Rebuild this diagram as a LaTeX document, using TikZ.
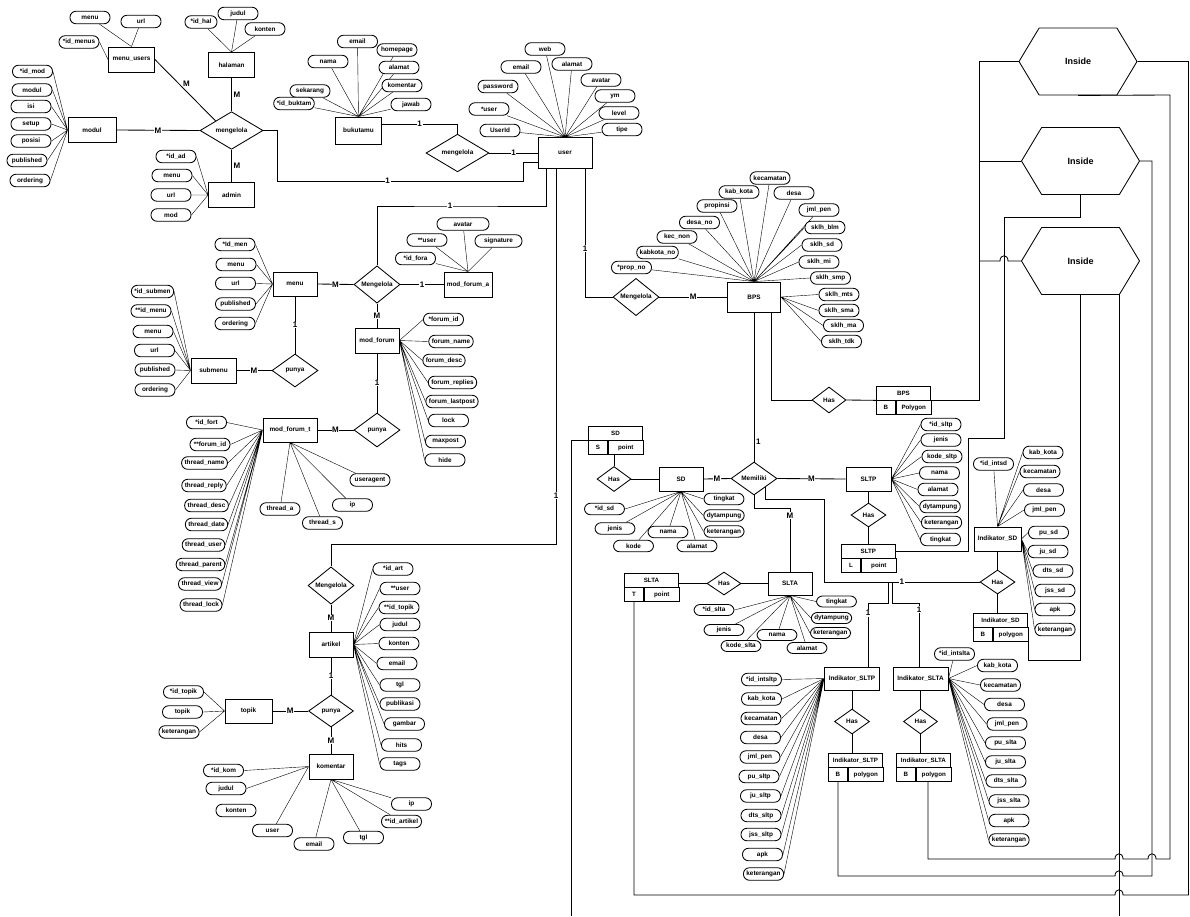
\documentclass[tikz,border=0pt]{standalone}
\usepackage{fontspec}
\setmainfont{Liberation Sans}
\usetikzlibrary{shapes.geometric,shapes.symbols,backgrounds}
% spatial table: title row, then code cell and geometry cell
\newcommand{\geobox}[5]{%
  \node[gtitle,anchor=north west] (#1) at (#2) {#3};
  \node[gcell,anchor=north west,minimum width=19pt] (#1b) at (#1.south west) {#4};
  \node[gcell,anchor=north west,minimum width=35pt] (#1t) at (#1b.north east) {#5};}

\begin{document}
\begin{tikzpicture}[x=1pt,y=-1pt,line width=0.85pt,
  ent/.style={draw,fill=white,minimum width=46pt,minimum height=25pt,inner sep=1pt,font=\fontsize{6.4}{7}\selectfont\bfseries},
  rel/.style={draw,diamond,fill=white,minimum width=46pt,minimum height=33pt,inner sep=0pt,font=\fontsize{6.4}{7}\selectfont\bfseries},
  hasr/.style={rel,minimum width=34pt,minimum height=25pt},
  att/.style={draw,fill=white,rounded corners=6pt,minimum width=40pt,minimum height=12.5pt,inner xsep=3pt,inner ysep=0pt,font=\fontsize{6.4}{7}\selectfont\bfseries},
  card/.style={fill=white,inner sep=0.6pt,font=\fontsize{8}{9}\selectfont\bfseries},
  gtitle/.style={draw,fill=white,minimum width=54pt,minimum height=13.5pt,inner sep=0pt,font=\fontsize{6.2}{7}\selectfont\bfseries},
  gcell/.style={draw,fill=white,minimum height=14pt,inner sep=0pt,font=\fontsize{6.2}{7}\selectfont\bfseries},
  hex/.style={draw,signal,signal to=east and west,signal pointer angle=118,minimum width=118pt,minimum height=67pt,inner sep=0pt,font=\fontsize{9}{10}\selectfont\bfseries}]
  \useasboundingbox (0,0) rectangle (1190,916);
  % top left: menu_users, halaman, modul, admin round mengelola
  \node[rel,minimum width=63pt] (mgl) at (231.5,130.5) {mengelola};
  \node[ent] (menuusers) at (131.5,59.5) {menu\_users};
  \node[att] (mu1) at (90,17.5) {menu};
  \node[att] (mu2) at (141,21.5) {url};
  \node[att] (mu3) at (79,42) {*id\_menus};
  \node[ent] (halaman) at (231.5,65) {halaman};
  \node[att,minimum width=32pt] (hl1) at (201,22) {*id\_hal};
  \node[att] (hl2) at (238,13.5) {judul};
  \node[att] (hl3) at (265,29) {konten};
  \node[ent,minimum width=48pt] (modul) at (92,130) {modul};
  \node[att] (md1) at (32.5,71.5) {*id\_mod};
  \node[att] (md2) at (32,90) {modul};
  \node[att] (md3) at (31,106.5) {isi};
  \node[att] (md4) at (31,124) {setup};
  \node[att] (md5) at (31,141) {posisi};
  \node[att] (md6) at (27,160.5) {published};
  \node[att] (md7) at (30,180.5) {ordering};
  \node[ent] (admin) at (231.5,195) {admin};
  \node[att] (ad1) at (176,156.5) {*id\_ad};
  \node[att] (ad2) at (172,175.5) {menu};
  \node[att] (ad3) at (171,195) {url};
  \node[att] (ad4) at (171,215) {mod};
  % bukutamu and user
  \node[ent,minimum height=27pt] (bukutamu) at (358.5,130.5) {bukutamu};
  \node[att] (bk1) at (357.5,41.5) {email};
  \node[att] (bk2) at (328,61.5) {nama};
  \node[att] (bk3) at (310,91) {sekarang};
  \node[att] (bk4) at (294,103.5) {*id\_buktam};
  \node[att] (bk5) at (397,50) {homepage};
  \node[att] (bk6) at (399,67.5) {alamat};
  \node[att] (bk7) at (402,85.5) {komentar};
  \node[att] (bk8) at (411,104.5) {jawab};
  \node[rel,minimum width=63pt,minimum height=32pt] (mg2) at (457.5,153) {mengelola};
  \node[ent,minimum width=54pt,minimum height=31pt] (user) at (565,153) {user};
  \node[att] (us1) at (545,49) {web};
  \node[att] (us2) at (521,67) {email};
  \node[att] (us3) at (498,86.5) {password};
  \node[att] (us4) at (489,109) {*user};
  \node[att] (us5) at (500,130.5) {UserId};
  \node[att] (us6) at (572,64) {alamat};
  \node[att] (us7) at (601,80) {avatar};
  \node[att] (us8) at (615,96) {ym};
  \node[att] (us9) at (619,113) {level};
  \node[att] (us10) at (622,129.5) {tipe};
  % menu, submenu and forum
  \node[ent,minimum width=44pt,minimum height=24pt] (menu) at (295,284) {menu};
  \node[att] (mn1) at (235,244.5) {*Id\_men};
  \node[att] (mn2) at (236,264.5) {menu};
  \node[att] (mn3) at (235.5,283.5) {url};
  \node[att] (mn4) at (235.5,304) {published};
  \node[att] (mn5) at (235,323.5) {ordering};
  \node[rel] (mgmenu) at (377,284.5) {Mengelola};
  \node[rel] (punya1) at (295,370.5) {punya};
  \node[ent,minimum width=45pt] (submenu) at (213.5,370.5) {submenu};
  \node[att] (sm1) at (152.5,291.5) {*id\_submen};
  \node[att] (sm2) at (151,311) {**id\_menu};
  \node[att] (sm3) at (153,331.5) {menu};
  \node[att] (sm4) at (154.5,350.5) {url};
  \node[att] (sm5) at (155,370) {published};
  \node[att] (sm6) at (155,390) {ordering};
  \node[ent,minimum width=48pt] (forumA) at (468,284.5) {mod\_forum\_a};
  \node[att,minimum width=52pt] (fa1) at (463,224) {avatar};
  \node[att] (fa2) at (427,240) {**user};
  \node[att,minimum width=47pt] (fa3) at (498.5,241) {signature};
  \node[att] (fa4) at (415.5,258.5) {*id\_fora};
  \node[ent,minimum width=44pt] (forum) at (377,340.5) {mod\_forum};
  \node[att] (fm1) at (443.5,319.5) {*forum\_id};
  \node[att] (fm2) at (451,341.5) {forum\_name};
  \node[att] (fm3) at (444,360.5) {forum\_desc};
  \node[att] (fm4) at (452.5,382.5) {forum\_replies};
  \node[att] (fm5) at (452,401.5) {forum\_lastpost};
  \node[att] (fm6) at (448.5,420.5) {lock};
  \node[att] (fm7) at (445.5,441.5) {maxpost};
  \node[att] (fm8) at (445,460) {hide};
  \node[rel,minimum height=34pt] (punya2) at (377,430) {punya};
  \node[ent,minimum width=54pt,minimum height=24pt] (forumT) at (290,430) {mod\_forum\_t};
  \node[att] (ft1) at (206.5,422.5) {*id\_fort};
  \node[att] (ft2) at (210,444.5) {**forum\_id};
  \node[att] (ft3) at (204.5,463) {thread\_name};
  \node[att] (ft4) at (204,485.5) {thread\_reply};
  \node[att] (ft5) at (206.5,505.5) {thread\_desc};
  \node[att] (ft6) at (206.5,524.5) {thread\_date};
  \node[att] (ft7) at (203.5,545) {thread\_user};
  \node[att] (ft8) at (200.5,564.5) {thread\_parent};
  \node[att] (ft9) at (200,584) {thread\_view};
  \node[att] (ft10) at (201,605) {thread\_lock};
  \node[att] (ft11) at (280,509) {thread\_a};
  \node[att] (ft12) at (322.5,523) {thread\_s};
  \node[att] (ft13) at (352.5,505) {ip};
  \node[att] (ft14) at (370,480) {useragent};
  % artikel, topik, komentar
  \node[rel] (mgart) at (331,585.5) {Mengelola};
  \node[ent,minimum width=44pt] (artikel) at (331,644.5) {artikel};
  \node[att] (ar1) at (393,569) {*id\_art};
  \node[att] (ar2) at (400,588.5) {**user};
  \node[att] (ar3) at (399,607.5) {**id\_topik};
  \node[att] (ar4) at (400,624.5) {judul};
  \node[att] (ar5) at (399,643.5) {konten};
  \node[att] (ar6) at (397,663.5) {email};
  \node[att] (ar7) at (400,685) {tgl};
  \node[att] (ar8) at (400,704) {publikasi};
  \node[att] (ar9) at (404.5,724) {gambar};
  \node[att] (ar10) at (401.5,745) {hits};
  \node[att] (ar11) at (400,764) {tags};
  \node[rel,minimum width=45pt,minimum height=32pt] (punya3) at (331,711) {punya};
  \node[ent,minimum width=47pt,minimum height=24pt] (topik) at (248.5,711) {topik};
  \node[att] (tp1) at (183.5,692) {*id\_topik};
  \node[att] (tp2) at (182.5,712) {topik};
  \node[att] (tp3) at (179,732) {keterangan};
  \node[ent,minimum width=44pt] (komentar) at (331,766.5) {komentar};
  \node[att] (km1) at (223.5,770.5) {*id\_kom};
  \node[att] (km2) at (226,788.5) {judul};
  \node[att] (km3) at (236,810.5) {konten};
  \node[att] (km4) at (272.5,830.5) {user};
  \node[att] (km5) at (314,844) {email};
  \node[att] (km6) at (363.5,837.5) {tgl};
  \node[att] (km7) at (401.5,821.5) {**id\_artikel};
  \node[att] (km8) at (411.5,804) {ip};
  % BPS
  \node[rel,minimum height=32pt] (mgbps) at (636,297) {Mengelola};
  \node[ent,minimum width=53pt,minimum height=30pt] (BPS) at (754,297) {BPS};
  \node[att] (bp1) at (631.5,267.5) {*prop\_no};
  \node[att] (bp2) at (657.5,252.5) {kabkota\_no};
  \node[att] (bp3) at (677,237) {kec\_non};
  \node[att] (bp4) at (699.5,222.5) {desa\_no};
  \node[att] (bp5) at (717,206) {propinsi};
  \node[att] (bp6) at (739,192) {kab\_kota};
  \node[att] (bp7) at (770,178) {kecamatan};
  \node[att] (bp8) at (794,193) {desa};
  \node[att] (bp9) at (819,210) {jml\_pen};
  \node[att] (bp10) at (825,227.5) {sklh\_blm};
  \node[att] (bp11) at (822,245) {sklh\_sd};
  \node[att] (bp12) at (819,262) {sklh\_mi};
  \node[att] (bp13) at (830.5,278) {sklh\_smp};
  \node[att] (bp14) at (839,294.5) {sklh\_mts};
  \node[att] (bp15) at (839,310.5) {sklh\_sma};
  \node[att] (bp16) at (843.5,325.5) {sklh\_ma};
  \node[att] (bp17) at (841.5,341.5) {sklh\_tdk};
  \node[hasr,minimum height=26pt] (hasbps) at (829,400) {Has};
  \geobox{bpsg}{876,386}{BPS}{B}{Polygon}
  % Memiliki: SD, SLTP, SLTA
  \node[rel] (memiliki) at (754,478.5) {Memiliki};
  \node[ent,minimum width=44pt,minimum height=24pt] (SD) at (681,479) {SD};
  \node[hasr] (hassd) at (614,479) {Has};
  \geobox{sdg}{588,426}{SD}{S}{point}
  \node[att,minimum height=11.5pt] (sd1) at (724,499) {tingkat};
  \node[att,minimum height=11.5pt] (sd2) at (604.5,509) {*id\_sd};
  \node[att,minimum height=11.5pt] (sd3) at (724,515.5) {dytampung};
  \node[att,minimum height=11.5pt] (sd4) at (724,531.5) {keterangan};
  \node[att,minimum height=11.5pt] (sd5) at (615,528.5) {jenis};
  \node[att,minimum height=11.5pt] (sd6) at (668,532) {nama};
  \node[att,minimum height=11.5pt] (sd7) at (633.5,546) {kode};
  \node[att,minimum height=11.5pt] (sd8) at (697,546) {alamat};
  \node[ent,minimum width=45pt,minimum height=24pt] (SLTP) at (868.5,479) {SLTP};
  \node[att] (sp1) at (941,424.5) {*id\_sltp};
  \node[att] (sp2) at (941,440) {jenis};
  \node[att] (sp3) at (942,456.5) {kode\_sltp};
  \node[att] (sp4) at (939.5,473) {nama};
  \node[att] (sp5) at (938,489.5) {alamat};
  \node[att] (sp6) at (940,506.5) {dytampung};
  \node[att] (sp7) at (941.5,522.5) {keterangan};
  \node[att] (sp8) at (940.5,539.5) {tingkat};
  \node[hasr,minimum width=35pt,minimum height=24pt] (hassltp) at (868.5,515) {Has};
  \geobox{sltpg}{841,544}{SLTP}{L}{point}
  \node[ent,minimum width=44pt,minimum height=23pt] (SLTA) at (790,583.5) {SLTA};
  \node[hasr,minimum height=23pt] (hasslta) at (724,583.5) {Has};
  \geobox{sltag}{624,573}{SLTA}{T}{point}
  \node[att,minimum height=11pt] (sa1) at (836.5,601.5) {tingkat};
  \node[att,minimum height=11pt] (sa2) at (714,610) {*id\_slta};
  \node[att,minimum height=11pt] (sa3) at (831.5,618) {dytampung};
  \node[att,minimum height=11pt] (sa4) at (830.5,633) {keterangan};
  \node[att,minimum height=11pt] (sa5) at (724,630) {jenis};
  \node[att,minimum height=11pt] (sa6) at (777,635) {nama};
  \node[att,minimum height=11pt] (sa7) at (741,646) {kode\_slta};
  \node[att,minimum height=11pt] (sa8) at (807,648) {alamat};
  % indikator entities
  \node[ent,minimum width=47pt,minimum height=24pt] (indsd) at (997.5,539) {Indikator\_SD};
  \node[att] (id1) at (993.5,464) {*id\_intsd};
  \node[att] (id2) at (1043,452.5) {kab\_kota};
  \node[att] (id3) at (1040,471.5) {kecamatan};
  \node[att] (id4) at (1043.5,490) {desa};
  \node[att] (id5) at (1044.5,510) {jml\_pen};
  \node[att] (id6) at (1048.5,532.5) {pu\_sd};
  \node[att] (id7) at (1048,551.5) {ju\_sd};
  \node[att] (id8) at (1053,571) {dts\_sd};
  \node[att] (id9) at (1055,590.5) {jss\_sd};
  \node[att] (id10) at (1055,609.5) {apk};
  \node[att] (id11) at (1055,629.5) {keterangan};
  \node[hasr,minimum width=35pt,minimum height=24pt] (hasind) at (997.5,582) {Has};
  \geobox{indsdg}{973,613}{Indikator\_SD}{B}{polygon}
  \node[ent,minimum width=55pt,minimum height=23pt] (indsltp) at (852,678.5) {Indikator\_SLTP};
  \node[att] (ip1) at (761.5,679.5) {*id\_intsltp};
  \node[att] (ip2) at (761.5,699) {kab\_kota};
  \node[att] (ip3) at (761,718.5) {kecamatan};
  \node[att] (ip4) at (760.5,737.5) {desa};
  \node[att] (ip5) at (760,757) {jml\_pen};
  \node[att] (ip6) at (759,776.5) {pu\_sltp};
  \node[att] (ip7) at (760.5,796) {ju\_sltp};
  \node[att] (ip8) at (761,815.5) {dts\_sltp};
  \node[att] (ip9) at (761,834.5) {jss\_sltp};
  \node[att] (ip10) at (762.5,854.5) {apk};
  \node[att] (ip11) at (763.5,874) {keterangan};
  \node[hasr,minimum width=35pt] (hasisltp) at (852,721.5) {Has};
  \geobox{indsltpg}{828,753}{Indikator\_SLTP}{B}{polygon}
  \node[ent,minimum width=55pt,minimum height=23pt] (indslta) at (920.5,678.5) {Indikator\_SLTA};
  \node[att] (it1) at (954.5,654) {*id\_intslta};
  \node[att] (it2) at (997.5,665.5) {kab\_kota};
  \node[att] (it3) at (1000.5,685) {kecamatan};
  \node[att] (it4) at (1004.5,704.5) {desa};
  \node[att] (it5) at (1007,724) {jml\_pen};
  \node[att] (it6) at (1005.5,743) {pu\_slta};
  \node[att] (it7) at (1005.5,762) {ju\_slta};
  \node[att] (it8) at (1006,781) {dts\_slta};
  \node[att] (it9) at (1009,801) {jss\_slta};
  \node[att] (it10) at (1009,820.5) {apk};
  \node[att] (it11) at (1009,840) {keterangan};
  \node[hasr] (hasislta) at (920.5,721.5) {Has};
  \geobox{indsltag}{896,753}{Indikator\_SLTA}{B}{polygon}
  % inside tests
  \node[hex] (inside1) at (1078,61.5) {Inside};
  \node[hex] (inside2) at (1080.5,161) {Inside};
  \node[hex] (inside3) at (1080.5,261) {Inside};
  \coordinate (bus2) at (979,161);
  \coordinate (bus3) at (979,261);
  \coordinate (jn1) at (888,582);
  \coordinate (jn2) at (892,582);

  % attributes, kept behind the shapes
  \begin{scope}[on background layer]
  \draw (menuusers.north) -- (mu1) (menuusers.north) -- (mu2) (menuusers.west) -- (mu3.east);
  \draw (halaman.north) -- (hl1) (halaman.north) -- (hl2) (halaman.north) -- (hl3);
  \draw (modul.west) -- (md1.east) (modul.west) -- (md2.east) (modul.west) -- (md3.east) (modul.west) -- (md4.east)
    (modul.west) -- (md5.east) (modul.west) -- (md6.east) (modul.west) -- (md7.east);
  \draw (admin.west) -- (ad1.east) (admin.west) -- (ad2.east) (admin.west) -- (ad3.east) (admin.west) -- (ad4.east);
  \draw (bukutamu.north) -- (bk1) (bukutamu.north) -- (bk2) (bukutamu.north) -- (bk3) (bukutamu.north) -- (bk4)
    (bukutamu.north) -- (bk5) (bukutamu.north) -- (bk6) (bukutamu.north) -- (bk7) (bukutamu.north) -- (bk8);
  \draw (user.north) -- (us1) (user.north) -- (us2) (user.north) -- (us3) (user.north) -- (us4) (user.north) -- (us5)
    (user.north) -- (us6) (user.north) -- (us7) (user.north) -- (us8) (user.north) -- (us9) (user.north) -- (us10);
  \draw (menu.west) -- (mn1.east) (menu.west) -- (mn2.east) (menu.west) -- (mn3.east) (menu.west) -- (mn4.east)
    (menu.west) -- (mn5.east);
  \draw (submenu.west) -- (sm1.east) (submenu.west) -- (sm2.east) (submenu.west) -- (sm3.east) (submenu.west) -- (sm4.east)
    (submenu.west) -- (sm5.east) (submenu.west) -- (sm6.east);
  \draw (forumA.north) -- (fa1) (forumA.north) -- (fa2) (forumA.north) -- (fa3) (forumA.north) -- (fa4);
  \draw (forum.east) -- (fm1.west) (forum.east) -- (fm2.west) (forum.east) -- (fm3.west) (forum.east) -- (fm4.west)
    (forum.east) -- (fm5.west) (forum.east) -- (fm6.west) (forum.east) -- (fm7.west) (forum.east) -- (fm8.west);
  \draw (forumT.west) -- (ft1.east) (forumT.west) -- (ft2.east) (forumT.west) -- (ft3.east) (forumT.west) -- (ft4.east)
    (forumT.west) -- (ft5.east) (forumT.west) -- (ft6.east) (forumT.west) -- (ft7.east) (forumT.west) -- (ft8.east)
    (forumT.west) -- (ft9.east) (forumT.west) -- (ft10.east);
  \draw (forumT.south) -- (ft11) (forumT.south) -- (ft12) (forumT.south) -- (ft13) (forumT.south) -- (ft14);
  \draw (artikel.east) -- (ar1.west) (artikel.east) -- (ar2.west) (artikel.east) -- (ar3.west) (artikel.east) -- (ar4.west)
    (artikel.east) -- (ar5.west) (artikel.east) -- (ar6.west) (artikel.east) -- (ar7.west) (artikel.east) -- (ar8.west)
    (artikel.east) -- (ar9.west) (artikel.east) -- (ar10.west) (artikel.east) -- (ar11.west);
  \draw (topik.west) -- (tp1.east) (topik.west) -- (tp2.east) (topik.west) -- (tp3.east);
  \draw (komentar.west) -- (km1.east) (komentar.west) -- (km2.east) (komentar.west) -- (km4);
  \draw (komentar.south) -- (km5) (komentar.south) -- (km6) (komentar.south) -- (km7) (komentar.south) -- (km8);
  \draw (BPS.north) -- (bp1) (BPS.north) -- (bp2) (BPS.north) -- (bp3) (BPS.north) -- (bp4) (BPS.north) -- (bp5)
    (BPS.north) -- (bp6) (BPS.north) -- (bp7) (BPS.north) -- (bp8) (BPS.north) -- (bp9) (BPS.north) -- (bp10.west)
    (BPS.north) -- (bp11.west) (BPS.north) -- (bp12.west) (BPS.north) -- (bp13.west);
  \draw (BPS.east) -- (bp14.west) (BPS.east) -- (bp15.west) (BPS.east) -- (bp16.west) (BPS.east) -- (bp17.west);
  \draw (SD.south) -- (sd1.west) (SD.south) -- (sd2.east) (SD.south) -- (sd3.west) (SD.south) -- (sd4.west)
    (SD.south) -- (sd5) (SD.south) -- (sd6) (SD.south) -- (sd7) (SD.south) -- (sd8);
  \draw (SLTP.east) -- (sp1.west) (SLTP.east) -- (sp2.west) (SLTP.east) -- (sp3.west) (SLTP.east) -- (sp4.west)
    (SLTP.east) -- (sp5.west) (SLTP.east) -- (sp6.west) (SLTP.east) -- (sp7.west) (SLTP.east) -- (sp8.west);
  \draw (SLTA.south) -- (sa1.west) (SLTA.south) -- (sa2.east) (SLTA.south) -- (sa3.west) (SLTA.south) -- (sa4.west)
    (SLTA.south) -- (sa5) (SLTA.south) -- (sa6) (SLTA.south) -- (sa7) (SLTA.south) -- (sa8);
  \draw (indsd.north) -- (id1) (indsd.north) -- (id2.west) (indsd.north) -- (id3.west) (indsd.north) -- (id4.west)
    (indsd.north) -- (id5.west);
  \draw (indsd.east) -- (id6.west) (indsd.east) -- (id7.west) (indsd.east) -- (id8.west) (indsd.east) -- (id9.west)
    (indsd.east) -- (id10.west) (indsd.east) -- (id11.west);
  \draw (indsltp.west) -- (ip1.east) (indsltp.west) -- (ip2.east) (indsltp.west) -- (ip3.east) (indsltp.west) -- (ip4.east)
    (indsltp.west) -- (ip5.east) (indsltp.west) -- (ip6.east) (indsltp.west) -- (ip7.east) (indsltp.west) -- (ip8.east)
    (indsltp.west) -- (ip9.east) (indsltp.west) -- (ip10.east) (indsltp.west) -- (ip11.east);
  \draw (indslta.east) -- (it1) (indslta.east) -- (it2.west) (indslta.east) -- (it3.west) (indslta.east) -- (it4.west)
    (indslta.east) -- (it5.west) (indslta.east) -- (it6.west) (indslta.east) -- (it7.west) (indslta.east) -- (it8.west)
    (indslta.east) -- (it9.west) (indslta.east) -- (it10.west) (indslta.east) -- (it11.west);
  \end{scope}

  % relationships, left part
  \draw (menuusers.east) -- node[card,pos=0.45,above right=0pt]{M} (mgl.north west);
  \draw (halaman.south) -- node[card,right=1pt]{M} (mgl.north);
  \draw (modul.east) -- node[card]{M} (mgl.west);
  \draw (mgl.south) -- node[card,right=1pt]{M} (admin.north);
  \draw (mgl.east) -| (277,181) -- node[card,pos=0.45]{1} (523,181) |- (user.west |- 0,162);
  \draw (bukutamu.east |- 0,124) -| node[card,pos=0.25]{1} (mg2.north);
  \draw (mg2.east) -- node[card]{1} (user.west);
  \draw (user.south -| 546,0) |- (450,206) node[card]{1} -| (mgmenu.north);
  \draw (user.south -| 556,0) -- node[card,pos=0.87]{1} (556,544) -| (mgart.north);
  \draw (user.south -| 585,0) |- node[card,pos=0.31]{1} (mgbps.west);
  \draw (menu.east) -- node[card]{M} (mgmenu.west);
  \draw (mgmenu.east) -- node[card]{1} (forumA.west);
  \draw (mgmenu.south) -- node[card]{M} (forum.north);
  \draw (menu.south) -- node[card]{1} (punya1.north);
  \draw (submenu.east) -- node[card]{M} (punya1.west);
  \draw (forum.south) -- node[card]{1} (punya2.north);
  \draw (forumT.east) -- node[card]{M} (punya2.west);
  \draw (mgart.south) -- node[card]{M} (artikel.north);
  \draw (artikel.south) -- node[card]{1} (punya3.north);
  \draw (topik.east) -- node[card]{M} (punya3.west);
  \draw (punya3.south) -- node[card]{M} (komentar.north);
  % relationships, right part
  \draw (mgbps.east) -- node[card]{M} (BPS.west);
  \draw (BPS.south) -- node[card,right=1pt,pos=0.87]{1} (memiliki.north);
  \draw (BPS.south -| 771,0) |- (hasbps.west);
  \draw (hasbps.east) -- (bpsg.south west);
  \draw (bpsgt.north east) -| (979,61.5) -- (inside1.west);
  \draw (bus2) -- (inside2.west);
  \draw (bus3) -- (1000,261) .. controls (1000,254) and (1008,254) .. (1008,261) -- (inside3.west);
  \draw (memiliki.west) -- node[card]{M} (SD.east);
  \draw (SD.west) -- (hassd.east);
  \draw (hassd.north) -- (hassd.north |- sdgt.south);
  \draw (sdg.south west) -| (571,916);
  \draw (memiliki.east) -- node[card]{M} (SLTP.west);
  \draw (SLTP.south) -- (hassltp.north);
  \draw (hassltp.south) -- (hassltp.south |- sltpg.north);
  \draw (sltpg.east) -| (968,438) -| (1004,217) -| (inside2.south);
  \draw (memiliki.south) |- (790,508) -- node[card,pos=0.12]{M} (SLTA.north);
  \draw (SLTA.west) -- (hasslta.east);
  \draw (hasslta.west) -- (hasslta.west -| sltag.east);
  \draw (sltagb.south) |- (1115,895) .. controls (1115,888) and (1123,888) .. (1123,895) -| (1188.5,61.5) -- (inside1.east);
  \draw (memiliki.south east) |- (824,499) |- node[card,pos=0.75]{1} (hasind.west);
  \draw (jn1) |- (868,603) -- node[card,pos=0.16]{1} (indsltp.north -| 868,0);
  \draw (jn2) |- (919,603) -- node[card,pos=0.1]{1} (indslta.north -| 919,0);
  \draw (indsd.south) -- (hasind.north);
  \draw (hasind.south) -- (hasind.south |- indsdg.north);
  \draw (indsdgt.south east) |- (1080.5,660) -- (inside3.south);
  \draw (inside3.south -| 1119,0) -- (1119,916);
  \draw (indsltp.south) -- (hasisltp.north);
  \draw (hasisltp.south) -- (hasisltp.south |- indsltpg.north);
  \draw (indsltpgb.south) |- (1115,876) .. controls (1115,869) and (1123,869) .. (1123,876) -| (1152,161) -- (inside2.east);
  \draw (indslta.south) -- (hasislta.north);
  \draw (hasislta.south) -- (hasislta.south |- indsltag.north);
  \draw (indsltagt.south -| 928,0) |- (1115,859) .. controls (1115,852) and (1123,852) .. (1123,859) -- (1148,859)
    .. controls (1148,852) and (1156,852) .. (1156,859) -| (1170,95) -- (inside1.south);
\end{tikzpicture}
\end{document}
